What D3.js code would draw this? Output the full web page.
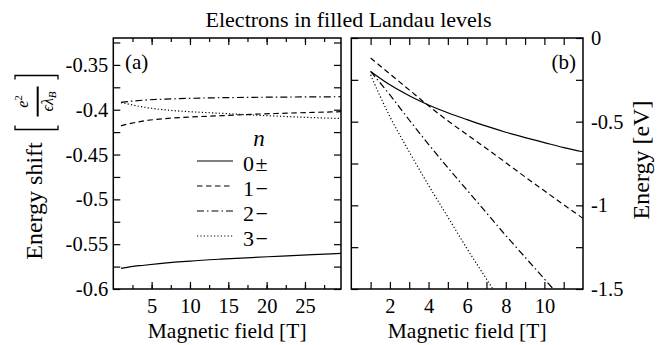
<!DOCTYPE html>
<html>
<head>
<meta charset="utf-8">
<script src="https://cdn.jsdelivr.net/npm/d3@7"></script>
<style>
  body { margin: 0; background: #fff; }
  svg text { font-family: "Liberation Serif", "Times New Roman", Times, "DejaVu Serif", serif; fill: #000; }
</style>
</head>
<body>
<div id="chart"></div>
<script>
// ---- data ----
// panel (a): energy shift in units of e^2/(eps lambda_B)
var fieldA = [1, 2, 4, 6, 8, 10, 14, 18, 22, 26, 29.7];
var shiftN0 = [-0.5770, -0.5755, -0.5735, -0.5717, -0.5701, -0.5688, -0.5667, -0.5649, -0.5633, -0.5617, -0.5603];
var shiftN1 = [-0.4178, -0.4158, -0.4125, -0.4105, -0.4092, -0.4082, -0.4067, -0.4052, -0.4040, -0.4030, -0.4022];
var shiftN2 = [-0.3919, -0.3908, -0.3893, -0.3884, -0.3878, -0.3873, -0.3866, -0.3862, -0.3859, -0.3857, -0.3855];
var shiftN3 = [-0.3920, -0.3938, -0.3972, -0.3995, -0.4011, -0.4022, -0.4040, -0.4058, -0.4074, -0.4088, -0.4098];

// panel (b): energy in eV
var fieldB = [1, 2, 3, 4, 5, 6, 7, 8, 9, 10, 11, 12];
var energyN0 = [-0.20, -0.28, -0.345, -0.40, -0.447, -0.488, -0.527, -0.563, -0.595, -0.625, -0.655, -0.68];
var energyN1 = [-0.12, -0.215, -0.31, -0.405, -0.495, -0.578, -0.66, -0.745, -0.83, -0.913, -0.996, -1.078];
var energyN2 = [-0.20, -0.34, -0.49, -0.635, -0.775, -0.91, -1.045, -1.18, -1.31, -1.44, -1.57, -1.70];
var fieldB3 = [1, 1.5, 2, 3, 4, 5, 6, 7, 7.33, 8];
var energyN3 = [-0.22, -0.35, -0.47, -0.68, -0.88, -1.07, -1.26, -1.44, -1.50, -1.62];

var legendNums = ["0", "1", "2", "3"];
var legendSigns = ["\u00b1", "\u2212", "\u2212", "\u2212"];
var dashes = [null, "5.5,3.5", "7,3,1.5,3", "1.2,2.2"];

var xTicksA = [5, 10, 15, 20, 25];
var yTicksA = [-0.6, -0.55, -0.5, -0.45, -0.4, -0.35];
var xTicksB = [2, 4, 6, 8, 10];
var yTicksB = [0, -0.5, -1, -1.5];

// ---- layout ----
var W = 669, H = 345;
var plotTop = 38, plotBottom = 289;
var pa = { left: 113.3, right: 341 };
var pb = { left: 351.3, right: 583 };
var serif = "'Liberation Serif', 'Times New Roman', Times, 'DejaVu Serif', serif";

var svg = d3.select("#chart").append("svg")
  .attr("width", W).attr("height", H)
  .attr("font-family", serif);

var xA = d3.scaleLinear().domain([0, 29.7]).range([pa.left, pa.right]);
var yA = d3.scaleLinear().domain([-0.6, -0.32]).range([plotBottom, plotTop]);
var xB = d3.scaleLinear().domain([0, 12]).range([pb.left, pb.right]);
var yB = d3.scaleLinear().domain([-1.5, 0]).range([plotBottom, plotTop]);

function ticks(from, to, step) {
  var out = [];
  for (var v = from; v <= to + 1e-9; v += step) out.push(+v.toFixed(4));
  return out;
}

function drawAxis(axis, x, y) {
  var g = svg.append("g")
    .attr("transform", "translate(" + x + "," + y + ")")
    .call(axis);
  g.attr("font-family", serif).attr("font-size", 20.5);
  g.select(".domain").remove();
  g.selectAll("line").attr("stroke", "#000").attr("stroke-width", 1.2);
  return g;
}

// panel (a) axes
drawAxis(d3.axisBottom(xA).tickValues(ticks(2.5, 27.5, 2.5)).tickSize(-4).tickFormat(""), 0, plotBottom);
drawAxis(d3.axisBottom(xA).tickValues(xTicksA).tickSize(-7).tickPadding(9).tickFormat(function(d) { return String(d); }), 0, plotBottom);
drawAxis(d3.axisTop(xA).tickValues(ticks(2.5, 27.5, 2.5)).tickSize(-4).tickFormat(""), 0, plotTop);
drawAxis(d3.axisTop(xA).tickValues(xTicksA).tickSize(-7).tickFormat(""), 0, plotTop);
drawAxis(d3.axisLeft(yA).tickValues(ticks(-0.6, -0.325, 0.025)).tickSize(-7).tickPadding(5).tickFormat(function(d) {
  return yTicksA.indexOf(d) >= 0 ? String(d) : "";
}), pa.left, 0);
drawAxis(d3.axisRight(yA).tickValues(ticks(-0.6, -0.325, 0.025)).tickSize(-7).tickFormat(""), pa.right, 0);

// panel (b) axes
drawAxis(d3.axisBottom(xB).tickValues(ticks(1, 11, 1)).tickSize(-7).tickPadding(9).tickFormat(function(d) {
  return xTicksB.indexOf(d) >= 0 ? String(d) : "";
}), 0, plotBottom);
drawAxis(d3.axisTop(xB).tickValues(ticks(1, 11, 1)).tickSize(-7).tickFormat(""), 0, plotTop);
drawAxis(d3.axisLeft(yB).tickValues(ticks(-1.5, 0, 0.25)).tickSize(-7).tickFormat(""), pb.left, 0);
drawAxis(d3.axisRight(yB).tickValues(ticks(-1.5, 0, 0.25)).tickSize(-7).tickPadding(8).tickFormat(function(d) {
  return yTicksB.indexOf(d) >= 0 ? String(d) : "";
}), pb.right, 0);

// frames
[pa, pb].forEach(function(p) {
  svg.append("rect")
    .attr("x", p.left).attr("y", plotTop)
    .attr("width", p.right - p.left).attr("height", plotBottom - plotTop)
    .attr("fill", "none").attr("stroke", "#000").attr("stroke-width", 1.5);
});

// clip paths
var defs = svg.append("defs");
defs.append("clipPath").attr("id", "clipA").append("rect")
  .attr("x", pa.left).attr("y", plotTop).attr("width", pa.right - pa.left).attr("height", plotBottom - plotTop);
defs.append("clipPath").attr("id", "clipB").append("rect")
  .attr("x", pb.left).attr("y", plotTop).attr("width", pb.right - pb.left).attr("height", plotBottom - plotTop);

// curves panel (a)
var seriesA = [shiftN0, shiftN1, shiftN2, shiftN3];
var lineA = d3.line()
  .x(function(d) { return xA(d[0]); })
  .y(function(d) { return yA(d[1]); })
  .curve(d3.curveMonotoneX);

svg.append("g").attr("clip-path", "url(#clipA)")
  .selectAll("path")
  .data(seriesA)
  .enter()
  .append("path")
  .attr("d", function(s) { return lineA(fieldA.map(function(b, i) { return [b, s[i]]; })); })
  .attr("fill", "none")
  .attr("stroke", "#000")
  .attr("stroke-width", 1.2)
  .attr("stroke-dasharray", function(s, i) { return dashes[i]; });

// curves panel (b)
var seriesB = [
  { x: fieldB, y: energyN0 },
  { x: fieldB, y: energyN1 },
  { x: fieldB, y: energyN2 },
  { x: fieldB3, y: energyN3 }
];
var lineB = d3.line()
  .x(function(d) { return xB(d[0]); })
  .y(function(d) { return yB(d[1]); })
  .curve(d3.curveMonotoneX);

svg.append("g").attr("clip-path", "url(#clipB)")
  .selectAll("path")
  .data(seriesB)
  .enter()
  .append("path")
  .attr("d", function(s) { return lineB(s.x.map(function(b, i) { return [b, s.y[i]]; })); })
  .attr("fill", "none")
  .attr("stroke", "#000")
  .attr("stroke-width", 1.2)
  .attr("stroke-dasharray", function(s, i) { return dashes[i]; });

// legend
svg.append("text")
  .attr("x", 259).attr("y", 146)
  .attr("text-anchor", "middle")
  .style("font-size", "23px").style("font-style", "italic")
  .text("n");

var leg = svg.selectAll(".leg")
  .data(legendNums)
  .enter()
  .append("g")
  .attr("class", "leg")
  .attr("transform", function(d, i) { return "translate(0," + (161 + i * 25) + ")"; });
leg.append("line")
  .attr("x1", 197).attr("x2", 233).attr("y1", 0).attr("y2", 0)
  .attr("stroke", "#000").attr("stroke-width", 1.2)
  .attr("stroke-dasharray", function(d, i) { return dashes[i]; });
var legText = leg.append("text")
  .attr("x", 243).attr("y", 9.5)
  .style("font-size", "22px");
legText.append("tspan").text(function(d) { return d; });
legText.append("tspan").attr("dx", 1.5).text(function(d, i) { return legendSigns[i]; });

// titles and labels
svg.append("text")
  .attr("x", 348.5).attr("y", 26.5)
  .attr("text-anchor", "middle")
  .style("font-size", "22px")
  .text("Electrons in filled Landau levels");

svg.append("text").attr("x", 125).attr("y", 69).style("font-size", "21px").text("(a)");
svg.append("text").attr("x", 576).attr("y", 69).attr("text-anchor", "end").style("font-size", "21px").text("(b)");

[pa, pb].forEach(function(p) {
  svg.append("text")
    .attr("x", (p.left + p.right) / 2).attr("y", 338)
    .attr("text-anchor", "middle")
    .style("font-size", "21.5px")
    .text("Magnetic field [T]");
});

svg.append("text")
  .attr("transform", "translate(649,160) rotate(-90)")
  .attr("text-anchor", "middle")
  .style("font-size", "24px")
  .text("Energy [eV]");

// left label with the unit fraction
svg.append("text")
  .attr("transform", "translate(42,201) rotate(-90)")
  .attr("text-anchor", "middle")
  .style("font-size", "24px")
  .text("Energy shift");

var frac = svg.append("g").attr("transform", "translate(37.7,101.5) rotate(-90)");
frac.append("line")
  .attr("x1", -15).attr("x2", 15).attr("y1", 0).attr("y2", 0)
  .attr("stroke", "#000").attr("stroke-width", 2);
var num = frac.append("text")
  .attr("x", 0).attr("y", -10)
  .attr("text-anchor", "middle")
  .style("font-size", "16px").style("font-style", "italic");
num.append("tspan").text("e");
num.append("tspan").attr("dy", -6).style("font-size", "11px").style("font-style", "normal").text("2");
var den = frac.append("text")
  .attr("x", 0).attr("y", 15)
  .attr("text-anchor", "middle")
  .style("font-size", "16px").style("font-style", "italic");
den.append("tspan").text("\u03f5\u03bb");
den.append("tspan").attr("dy", 3).style("font-size", "11px").text("B");
frac.append("path")
  .attr("d", "M-24,-22.7 L-28,-22.7 L-28,20.3 L-24,20.3")
  .attr("fill", "none").attr("stroke", "#000").attr("stroke-width", 1.3);
frac.append("path")
  .attr("d", "M22,-22.7 L26,-22.7 L26,20.3 L22,20.3")
  .attr("fill", "none").attr("stroke", "#000").attr("stroke-width", 1.3);
</script>
</body>
</html>
